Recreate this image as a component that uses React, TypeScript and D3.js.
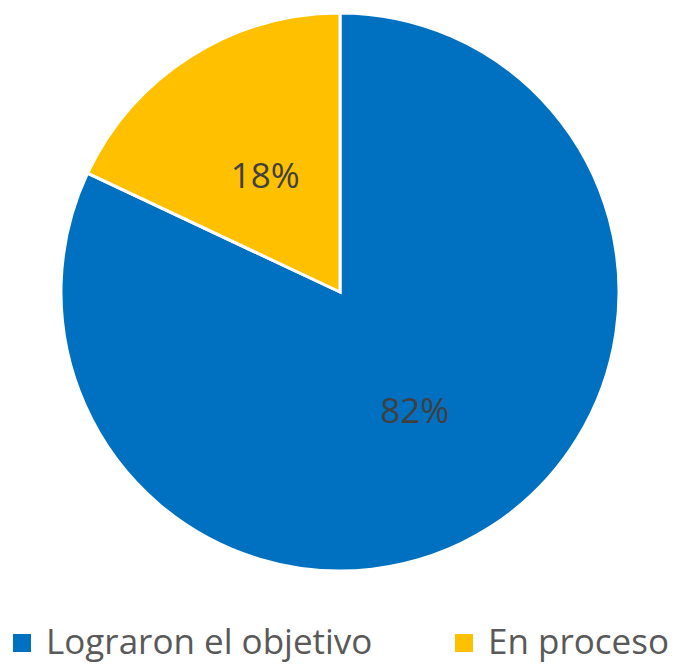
import React from "react";
import * as d3 from "d3";

const categories = ["Lograron el objetivo", "En proceso"];
const values = [82, 18];
const labels = ["82%", "18%"];
const colors = ["#0070C0", "#FFC000"];

export default function App() {
  const W = 677, H = 664;
  const cx = 340, cy = 292, r = 279;
  const pie = d3.pie<number>().sort(null).value((d) => d)(values);
  const arc = d3.arc<d3.PieArcDatum<number>>().innerRadius(0).outerRadius(r);
  const labelArc = d3.arc<d3.PieArcDatum<number>>().innerRadius(r * 0.5).outerRadius(r * 0.5);
  const font = "'Open Sans', 'Noto Sans', sans-serif";
  const legendX = [13, 455];
  return (
    <svg width={W} height={H} style={{ position: "absolute", left: 0, top: 0 }}>
      <rect width={W} height={H} fill="#fff" />
      <g transform={`translate(${cx},${cy})`}>
        {pie.map((p, i) => (
          <path key={i} d={arc(p) || ""} fill={colors[i]} stroke="#fff" strokeWidth={3} />
        ))}
        {pie.map((p, i) => {
          const [x, y] = labelArc.centroid(p);
          return (
            <text key={i} x={x} y={y} textAnchor="middle" dominantBaseline="central"
              fontFamily={font} fontSize={35} fill="#404040">{labels[i]}</text>
          );
        })}
      </g>
      <g>
        {categories.map((c, i) => (
          <g key={c}>
            <rect x={legendX[i]} y={634} width={18} height={18} fill={colors[i]} />
            <text x={legendX[i] + 33} y={654} fontFamily={font} fontSize={35} fill="#595959">{c}</text>
          </g>
        ))}
      </g>
    </svg>
  );
}
